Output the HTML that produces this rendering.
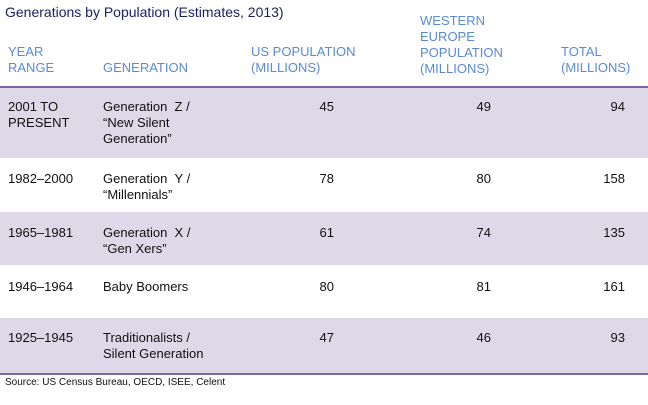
<!DOCTYPE html>
<html><head><style>
body{margin:0;width:648px;height:405px;background:#fff;font-family:"Liberation Sans",Arial,sans-serif;position:relative;overflow:hidden}
.t{position:absolute;white-space:nowrap}
.title{left:5px;top:4px;font-size:14px;color:#1f2060}
.h{font-size:13px;color:#5a8bd0;line-height:16px}
.b{font-size:13px;color:#111;line-height:16px}
.band{position:absolute;left:0;width:648px;background:#ded8e8}
.line{position:absolute;left:0;width:648px;height:2px;background:#7b68a6}
.r{text-align:right}
</style></head><body>
<div class="t title">Generations by Population (Estimates, 2013)</div>
<div class="t h" style="left:8px;top:44px">YEAR<br>RANGE</div>
<div class="t h" style="left:103px;top:60px">GENERATION</div>
<div class="t h" style="left:251px;top:44px">US POPULATION<br>(MILLIONS)</div>
<div class="t h" style="left:420px;top:13px">WESTERN<br>EUROPE<br>POPULATION<br>(MILLIONS)</div>
<div class="t h" style="left:561px;top:44px">TOTAL<br>(MILLIONS)</div>
<div class="line" style="top:86px"></div>
<div class="band" style="top:88px;height:70px"></div>
<div class="band" style="top:212px;height:53px"></div>
<div class="band" style="top:318px;height:55px"></div>
<div class="line" style="top:373px"></div>

<div class="t b" style="left:8px;top:99px">2001 TO<br>PRESENT</div>
<div class="t b" style="left:103px;top:99px">Generation &nbsp;Z /<br>“New Silent<br>Generation”</div>
<div class="t b r" style="right:314px;top:99px">45</div>
<div class="t b r" style="right:157px;top:99px">49</div>
<div class="t b r" style="right:23px;top:99px">94</div>

<div class="t b" style="left:8px;top:171px">1982–2000</div>
<div class="t b" style="left:103px;top:171px">Generation &nbsp;Y /<br>“Millennials”</div>
<div class="t b r" style="right:314px;top:171px">78</div>
<div class="t b r" style="right:157px;top:171px">80</div>
<div class="t b r" style="right:23px;top:171px">158</div>

<div class="t b" style="left:8px;top:225px">1965–1981</div>
<div class="t b" style="left:103px;top:225px">Generation &nbsp;X /<br>“Gen Xers”</div>
<div class="t b r" style="right:314px;top:225px">61</div>
<div class="t b r" style="right:157px;top:225px">74</div>
<div class="t b r" style="right:23px;top:225px">135</div>

<div class="t b" style="left:8px;top:279px">1946–1964</div>
<div class="t b" style="left:103px;top:279px">Baby Boomers</div>
<div class="t b r" style="right:314px;top:279px">80</div>
<div class="t b r" style="right:157px;top:279px">81</div>
<div class="t b r" style="right:23px;top:279px">161</div>

<div class="t b" style="left:8px;top:330px">1925–1945</div>
<div class="t b" style="left:103px;top:330px">Traditionalists /<br>Silent Generation</div>
<div class="t b r" style="right:314px;top:330px">47</div>
<div class="t b r" style="right:157px;top:330px">46</div>
<div class="t b r" style="right:23px;top:330px">93</div>

<div class="t" style="left:5px;top:377px;font-size:10px;color:#111">Source: US Census Bureau, OECD, ISEE, Celent</div>
</body></html>
